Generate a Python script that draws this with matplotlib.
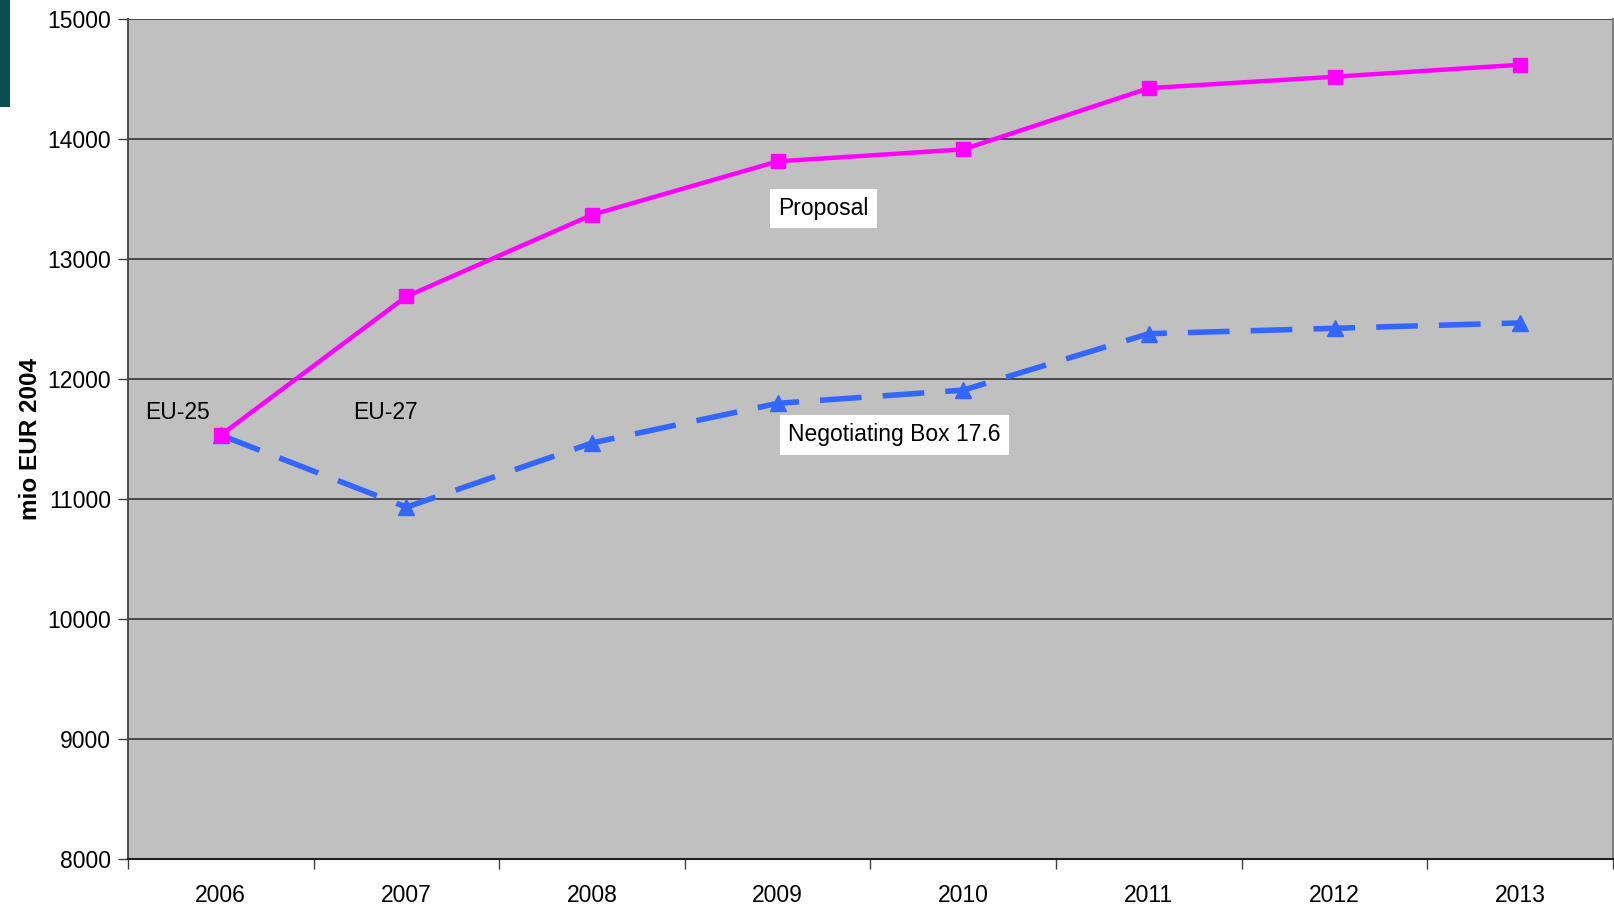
import matplotlib
matplotlib.use("Agg")
import matplotlib.pyplot as plt
import matplotlib.patches as mpatches
import numpy as np

years = ["2006", "2007", "2008", "2009", "2010", "2011", "2012", "2013"]
proposal = [11530, 12685, 13365, 13810, 13910, 14420, 14515, 14615]
negotiating_box = [11530, 10930, 11465, 11795, 11905, 12375, 12420, 12465]
y_ticks = [8000, 9000, 10000, 11000, 12000, 13000, 14000, 15000]

plt.rcParams['font.family'] = ['Liberation Sans', 'DejaVu Sans']
FS = 16.5

fig = plt.figure(figsize=(16.15, 9.08), dpi=100)
ax = fig.add_axes([128/1615, 1 - 859/908, (1613-128)/1615, (859-18.5)/908])
ax.set_facecolor('#c0c0c0')

x = np.arange(len(years))
ax.plot(x, proposal, color='#ff00ff', lw=3.2, marker='s', ms=9.5, zorder=4, clip_on=False)
ax.plot(x, negotiating_box, color='#3366ff', lw=4, ls=(0, (7.5, 3.8)), marker='^', ms=11, zorder=3, clip_on=False)

ax.set_xlim(-0.5, len(years) - 0.5)
ax.set_ylim(8000, 15000)
ax.set_yticks(y_ticks)
ax.set_yticklabels([str(v) for v in y_ticks], fontsize=FS)
ax.set_xticks(np.arange(len(years) + 1) - 0.5)
ax.set_xticklabels([])
ax.set_xticks(x, minor=True)
ax.set_xticklabels(years, minor=True, fontsize=FS)
ax.tick_params(axis='x', which='major', length=7, width=1, color='#404040', direction='out')
ax.tick_params(axis='x', which='minor', length=0, pad=18)
ax.tick_params(axis='y', length=7, width=1, color='#404040', direction='out', pad=5)

ax.yaxis.grid(True, color='#404040', lw=1.3)
ax.set_axisbelow(True)
ax.spines['top'].set_visible(False)
ax.spines['right'].set_color('#808080')
ax.spines['right'].set_linewidth(1.5)
ax.spines['left'].set_color('#404040')
ax.spines['bottom'].set_color('#202020')
ax.spines['left'].set_linewidth(1.3)
ax.spines['bottom'].set_linewidth(1.5)

ax.set_ylabel('mio EUR 2004', fontsize=17.5, fontweight='bold', labelpad=4)

box = dict(facecolor='white', edgecolor='none', pad=6)
ax.text(3.245, 13417, 'Proposal', fontsize=FS, ha='center', va='center', bbox=box, zorder=5)
ax.text(3.627, 11533, 'Negotiating Box 17.6', fontsize=FS, ha='center', va='center', bbox=box, zorder=5)
ax.text(-0.236, 11717, 'EU-25', fontsize=FS, ha='center', va='center', zorder=5)
ax.text(0.885, 11717, 'EU-27', fontsize=FS, ha='center', va='center', zorder=5)

fig.patches.append(mpatches.Rectangle((0, 1 - 107/908), 10/1615, 107/908,
                                      transform=fig.transFigure, facecolor='#0a4f4f', edgecolor='none'))

fig.savefig('out.png', dpi=100)
